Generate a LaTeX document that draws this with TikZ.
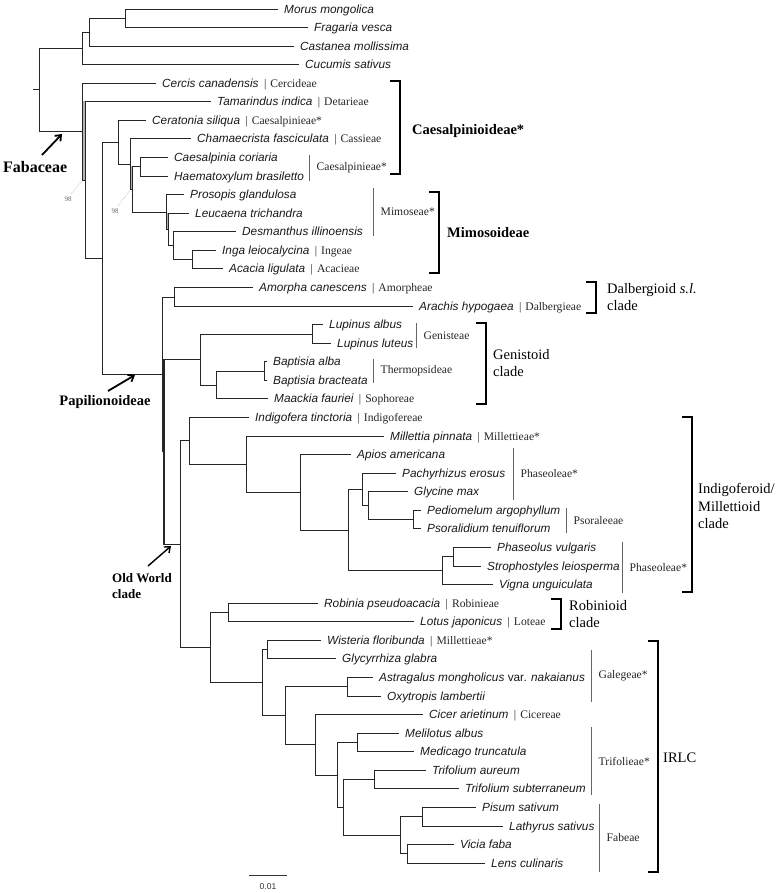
\documentclass[tikz,border=0pt]{standalone}
\usepackage{fontspec}
\setmainfont{Liberation Serif}
\setsansfont{Liberation Sans}
\usetikzlibrary{arrows.meta,calc}
\newcommand\spfont{\sffamily\itshape\fontsize{11.8}{14}\selectfont}
\newcommand\tbfont{\rmfamily\fontsize{11.6}{14}\selectfont}
\newcommand\cladefont{\rmfamily\fontsize{14.5}{17.5}\selectfont}
\newcommand\subfamfont{\rmfamily\bfseries\fontsize{14.5}{17}\selectfont}
\tikzset{
  br/.style={line width=1.7pt, draw=black!85, line cap=rect},
  sp/.style={anchor=base west, inner sep=0pt, font=\spfont, text=black!90},
  tb/.style={anchor=base west, inner sep=0pt, font=\tbfont, text=black!85},
  tbar/.style={draw=black!60, line width=0.9pt},
  tribelab/.style={anchor=west, inner sep=0pt, font=\tbfont, text=black!85},
  bracket/.style={line width=2.3pt, draw=black},
  cladelab/.style={anchor=west, inner sep=0pt, font=\cladefont, align=left},
  subfam/.style={anchor=west, inner sep=0pt, font=\subfamfont},
  arr/.style={-{Straight Barb[length=5pt,width=8pt]}, line width=1.8pt},
  boot/.style={inner sep=0pt, font=\rmfamily\fontsize{7}{8}\selectfont, text=black!60},
  lead/.style={draw=black!40, line width=0.5pt, densely dotted}
}
\newcommand\tipleaf[5]{%
  \coordinate (#1) at (#3,#4);
  \draw[br] (#2) |- (#1);
  \node[sp] (t#1) at ([xshift=7pt,yshift=-4.2pt]#1) {#5};}
\newcommand\tribe[2]{\node[tb] (r#1) at ([xshift=5pt]t#1.base east) {|\hspace{4pt}#2};}
\newcommand\tribebar[5]{%
  \coordinate (#1a) at (#2,#3); \coordinate (#1b) at (#2,#4);
  \draw[tbar] (#1a) -- (#1b);
  \node[tribelab] (#1l) at ($(#1a)!0.5!(#1b)+(7pt,0)$) {#5};}
\newcommand\bracketc[4]{%
  \coordinate (#1a) at (#2,#3); \coordinate (#1b) at (#2,#4);
  \draw[bracket] ([xshift=-10pt]#1a) -- (#1a) -- (#1b) -- ([xshift=-10pt]#1b);}
\begin{document}
\begin{tikzpicture}[x=1pt,y=-1pt]
\useasboundingbox (0,0) rectangle (780,893);
% internal nodes
\coordinate (rt) at (33.5,89.5);
\coordinate (root) at (39.5,89.5);
\coordinate (o1) at (82.5,48.5);
\coordinate (o2) at (89.5,32.5);
\coordinate (o3) at (125.5,18.5);
\coordinate (f1) at (82.5,131.5);
\coordinate (f2) at (85.5,180.5);
\coordinate (f3) at (102.5,258.5);
\coordinate (cm) at (118.5,142.5);
\coordinate (P) at (130.5,164.5);
\coordinate (Q) at (132.5,189.5);
\coordinate (caes) at (140.5,166.5);
\coordinate (R) at (166.5,212.5);
\coordinate (S) at (168.5,229.5);
\coordinate (T) at (173.5,245.5);
\coordinate (U) at (192.5,259.5);
\coordinate (pap1) at (162.5,374.5);
\coordinate (pap2) at (164,451.5);
\coordinate (dal) at (174.5,297.5);
\coordinate (gen) at (200.5,359.5);
\coordinate (gen1) at (312.5,334.5);
\coordinate (gen2) at (216.5,385.5);
\coordinate (bapt) at (264.5,371.5);
\coordinate (ow) at (180.5,544.5);
\coordinate (im) at (189.5,440.5);
\coordinate (im2) at (246.5,464.5);
\coordinate (im3) at (300.5,492.5);
\coordinate (im4) at (348.5,530.5);
\coordinate (im5) at (362.5,489.5);
\coordinate (im6) at (368.5,505.5);
\coordinate (pso) at (413.5,519.5);
\coordinate (ph) at (442.5,570.5);
\coordinate (ph2) at (453.5,556.5);
\coordinate (hr) at (210.5,647.5);
\coordinate (rob) at (228.5,612.5);
\coordinate (irlc) at (262.5,682.5);
\coordinate (wg) at (267.5,649.5);
\coordinate (irlc2) at (285.5,715.5);
\coordinate (ao) at (347.5,686.5);
\coordinate (ir3) at (315.5,744.5);
\coordinate (ir4) at (337.5,775.5);
\coordinate (mm) at (357.5,742.5);
\coordinate (ir5) at (343.5,807.5);
\coordinate (tt) at (374.5,779.5);
\coordinate (fab) at (400.5,835.5);
\coordinate (fab1) at (422.5,816.5);
\coordinate (fab2) at (407.5,853.5);
% grey support bars
\fill[black!30] (82.5,101.5) rectangle (85.5,180.5);
\fill[black!30] (130.5,166.5) rectangle (132.5,189.5);
\fill[black!30] (166.5,213.5) rectangle (168.5,229.5);
% internal branches
\draw[br] (rt) -- (root);
\draw[br] (root) |- (o1); \draw[br] (root) |- (f1);
\draw[br] (o1) |- (o2); \draw[br] (o2) |- (o3);
\draw[br] (f1) |- (f2); \draw[br] (f2) |- (f3);
\draw[br] (f3) |- (cm); \draw[br] (f3) |- (pap1);
\draw[br] (cm) |- (P); \draw[br] (P) |- (Q);
\draw[br] (Q) |- (caes); \draw[br] (Q) |- (R);
\draw[br] (R) |- (S); \draw[br] (S) |- (T); \draw[br] (T) |- (U);
\draw[br] (pap1) |- (dal); \draw[br] (pap1) |- (pap2);
\draw[br] (pap2) |- (gen); \draw[br] (pap2) |- (ow);
\draw[br] (gen) |- (gen1); \draw[br] (gen) |- (gen2); \draw[br] (gen2) |- (bapt);
\draw[br] (ow) |- (im); \draw[br] (ow) |- (hr);
\draw[br] (im) |- (im2); \draw[br] (im2) |- (im3); \draw[br] (im3) |- (im4);
\draw[br] (im4) |- (im5); \draw[br] (im4) |- (ph);
\draw[br] (im5) |- (im6); \draw[br] (im6) |- (pso); \draw[br] (ph) |- (ph2);
\draw[br] (hr) |- (rob); \draw[br] (hr) |- (irlc);
\draw[br] (irlc) |- (wg); \draw[br] (irlc) |- (irlc2);
\draw[br] (irlc2) |- (ao); \draw[br] (irlc2) |- (ir3);
\draw[br] (ir3) |- (ir4); \draw[br] (ir4) |- (mm); \draw[br] (ir4) |- (ir5);
\draw[br] (ir5) |- (tt); \draw[br] (ir5) |- (fab);
\draw[br] (fab) |- (fab1); \draw[br] (fab) |- (fab2);
% leaves
\tipleaf{morus}{o3}{277}{9.5}{Morus mongolica}
\tipleaf{frag}{o3}{307}{27.5}{Fragaria vesca}
\tipleaf{cast}{o2}{293}{46.5}{Castanea mollissima}
\tipleaf{cucu}{o1}{298}{64.5}{Cucumis sativus}
\tipleaf{cerc}{f1}{155}{83.5}{Cercis canadensis}
\tipleaf{tama}{f2}{210}{101.5}{Tamarindus indica}
\tipleaf{cera}{cm}{145}{120.5}{Ceratonia siliqua}
\tipleaf{cham}{P}{190}{138.5}{Chamaecrista fasciculata}
\tipleaf{caco}{caes}{167}{157.5}{Caesalpinia coriaria}
\tipleaf{haem}{caes}{167}{176.5}{Haematoxylum brasiletto}
\tipleaf{pros}{R}{183}{194.5}{Prosopis glandulosa}
\tipleaf{leuc}{S}{188}{213.5}{Leucaena trichandra}
\tipleaf{desm}{T}{235}{231.5}{Desmanthus illinoensis}
\tipleaf{inga}{U}{215}{250.5}{Inga leiocalycina}
\tipleaf{acac}{U}{222}{268.5}{Acacia ligulata}
\tipleaf{amor}{dal}{252}{287.5}{Amorpha canescens}
\tipleaf{arac}{dal}{412}{306.5}{Arachis hypogaea}
\tipleaf{lual}{gen1}{322}{324.5}{Lupinus albus}
\tipleaf{lulu}{gen1}{330}{343.5}{Lupinus luteus}
\tipleaf{baal}{bapt}{266}{361.5}{Baptisia alba}
\tipleaf{babr}{bapt}{266}{380.5}{Baptisia bracteata}
\tipleaf{maac}{gen2}{267}{398.5}{Maackia fauriei}
\tipleaf{indi}{im}{248}{417.5}{Indigofera tinctoria}
\tipleaf{mill}{im2}{383}{436.5}{Millettia pinnata}
\tipleaf{apio}{im3}{350}{454.5}{Apios americana}
\tipleaf{pach}{im5}{395}{473.5}{Pachyrhizus erosus}
\tipleaf{glyc}{im6}{407}{491.5}{Glycine max}
\tipleaf{pedi}{pso}{420}{510.5}{Pediomelum argophyllum}
\tipleaf{psor}{pso}{420}{528.5}{Psoralidium tenuiflorum}
\tipleaf{phas}{ph2}{490}{547.5}{Phaseolus vulgaris}
\tipleaf{stro}{ph2}{480}{566.5}{Strophostyles leiosperma}
\tipleaf{vign}{ph}{492}{584.5}{Vigna unguiculata}
\tipleaf{robi}{rob}{317}{603.5}{Robinia pseudoacacia}
\tipleaf{lotu}{rob}{413}{621.5}{Lotus japonicus}
\tipleaf{wist}{wg}{320}{640.5}{Wisteria floribunda}
\tipleaf{glyz}{wg}{335}{658.5}{Glycyrrhiza glabra}
\tipleaf{astr}{ao}{372}{677.5}{Astragalus mongholicus \textup{var.} nakaianus}
\tipleaf{oxyt}{ao}{380}{696.5}{Oxytropis lambertii}
\tipleaf{cice}{ir3}{422}{714.5}{Cicer arietinum}
\tipleaf{meli}{mm}{398}{733.5}{Melilotus albus}
\tipleaf{medi}{mm}{413}{751.5}{Medicago truncatula}
\tipleaf{trau}{tt}{425}{770.5}{Trifolium aureum}
\tipleaf{trsu}{tt}{458}{788.5}{Trifolium subterraneum}
\tipleaf{pisu}{fab1}{475}{807.5}{Pisum sativum}
\tipleaf{lath}{fab1}{502}{826.5}{Lathyrus sativus}
\tipleaf{vici}{fab2}{453}{844.5}{Vicia faba}
\tipleaf{lens}{fab2}{484}{863.5}{Lens culinaris}
% inline tribes
\tribe{cerc}{Cercideae}
\tribe{tama}{Detarieae}
\tribe{cera}{Caesalpinieae*}
\tribe{cham}{Cassieae}
\tribe{inga}{Ingeae}
\tribe{acac}{Acacieae}
\tribe{amor}{Amorpheae}
\tribe{arac}{Dalbergieae}
\tribe{maac}{Sophoreae}
\tribe{indi}{Indigofereae}
\tribe{mill}{Millettieae*}
\tribe{robi}{Robinieae}
\tribe{lotu}{Loteae}
\tribe{wist}{Millettieae*}
\tribe{cice}{Cicereae}
% tribe bars
\tribebar{tcae}{309.5}{155}{181}{Caesalpinieae*}
\tribebar{tmim}{373.5}{188}{236}{Mimoseae*}
\tribebar{tgen}{416.5}{323}{348}{Genisteae}
\tribebar{tthe}{373.5}{359}{383}{Thermopsideae}
\tribebar{tph1}{513.5}{448}{500}{Phaseoleae*}
\tribebar{tpso}{566.5}{508}{533}{Psoraleeae}
\tribebar{tph2}{622.5}{542}{593}{Phaseoleae*}
\tribebar{tgal}{591.5}{650}{702}{Galegeae*}
\tribebar{ttri}{591.5}{727}{795}{Trifolieae*}
\tribebar{tfab}{599.5}{804}{872}{Fabeae}
% brackets
\bracketc{bcae}{400}{81}{174}
\node[subfam] (lcae) at (412,131) {Caesalpinioideae*};
\bracketc{bmim}{439}{192}{273}
\node[subfam] (lmim) at (447,233) {Mimosoideae};
\bracketc{bdal}{596}{282}{313}
\node[cladelab] (ldal) at (607,297) {Dalbergioid \textit{s.l.}\\clade};
\bracketc{bgen}{486}{323}{404}
\node[cladelab] (lgen) at (493,363) {Genistoid\\clade};
\bracketc{bind}{692}{417}{592}
\node[cladelab] (lind) at (698,506) {Indigoferoid/\\Millettioid\\clade};
\bracketc{brob}{561}{599}{629}
\node[cladelab] (lrob) at (569,614) {Robinioid\\clade};
\bracketc{birl}{658}{641}{872}
\node[cladelab] (lirl) at (663,758) {IRLC};
% subfamily arrows
\node[inner sep=0pt, anchor=west, font=\rmfamily\bfseries\fontsize{16}{18}\selectfont] (lfab) at (3,167) {Fabaceae};
\coordinate (afab1) at (42,155); \coordinate (afab2) at (62,134);
\draw[arr] (afab1) -- (afab2);
\node[inner sep=0pt, font=\subfamfont] (lpap) at (105,402) {Papilionoideae};
\coordinate (apap1) at (108,391); \coordinate (apap2) at (135,375);
\draw[arr] (apap1) -- (apap2);
\node[inner sep=0pt, anchor=west, align=left, font=\rmfamily\bfseries\fontsize{13}{16}\selectfont] (low) at (112,586) {Old World\\clade};
\coordinate (aow1) at (148,566); \coordinate (aow2) at (171,546);
\draw[arr, line width=1.4pt] (aow1) -- (aow2);
% bootstrap labels
\node[boot] (b98a) at (68,199) {98};
\coordinate (la1) at (82,181); \coordinate (la2) at (71,194);
\draw[lead] (la1) -- (la2);
\node[boot] (b98b) at (115,211) {98};
\coordinate (lb1) at (130,190); \coordinate (lb2) at (118,206);
\draw[lead] (lb1) -- (lb2);
% scale bar
\coordinate (sb1) at (249,875.5); \coordinate (sb2) at (287,875.5);
\draw[line width=0.8pt, black!80] (sb1) -- (sb2);
\node[inner sep=0pt, font=\sffamily\fontsize{8.5}{10}\selectfont, text=black!80] (sbl) at (268,887) {0.01};
\end{tikzpicture}
\end{document}
